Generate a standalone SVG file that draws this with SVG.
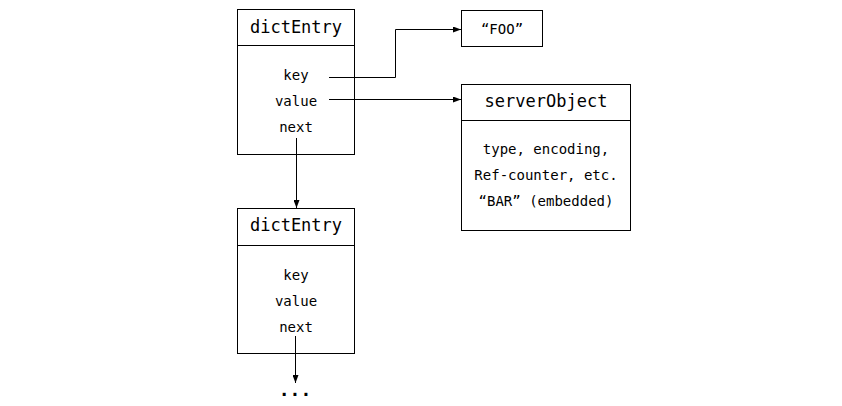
<svg xmlns="http://www.w3.org/2000/svg" width="842" height="406" viewBox="0 0 842 406">
<style>
  .box { fill: #ffffff; stroke: #000000; stroke-width: 1; }
  .div { stroke: #000000; stroke-width: 1; }
  .title { font-family: "DejaVu Sans Mono", "Liberation Mono", monospace; font-size: 17px; fill: #000000; text-anchor: middle; }
  .body { font-family: "DejaVu Sans Mono", "Liberation Mono", monospace; font-size: 14px; fill: #000000; text-anchor: middle; }
  .dots { font-family: "DejaVu Sans Mono", "Liberation Mono", monospace; font-size: 18px; font-weight: bold; fill: #000000; text-anchor: middle; }
  .conn { fill: none; stroke: #000000; stroke-width: 1; }
</style>
<defs>
  <marker id="arr" viewBox="0 0 8 6" refX="8" refY="3" markerWidth="8" markerHeight="6" markerUnits="userSpaceOnUse" orient="auto">
    <path d="M0,0 L8,3 L0,6 Z" fill="#000000"/>
  </marker>
</defs>
<rect width="842" height="406" fill="#ffffff"/>
<g id="dictEntry1">
  <rect class="box" x="237.5" y="9.5" width="117" height="145"/>
  <line class="div" x1="237.5" y1="45.5" x2="354.5" y2="45.5"/>
  <text class="title" x="296" y="33">dictEntry</text>
  <text class="body" x="296" y="80">key</text>
  <text class="body" x="296" y="106">value</text>
  <text class="body" x="296" y="132">next</text>
</g>
<g id="foo">
  <rect class="box" x="461.5" y="10.5" width="81" height="36"/>
  <text class="body" x="502" y="34">“FOO”</text>
</g>
<g id="serverObject">
  <rect class="box" x="461.5" y="84.5" width="169" height="146"/>
  <line class="div" x1="461.5" y1="120.5" x2="630.5" y2="120.5"/>
  <text class="title" x="546" y="107">serverObject</text>
  <text class="body" x="546" y="154">type, encoding,</text>
  <text class="body" x="546" y="180">Ref-counter, etc.</text>
  <text class="body" x="546" y="206">“BAR” (embedded)</text>
</g>
<g id="dictEntry2">
  <rect class="box" x="237.5" y="208.5" width="117" height="145"/>
  <line class="div" x1="237.5" y1="245.5" x2="354.5" y2="245.5"/>
  <text class="title" x="296" y="231">dictEntry</text>
  <text class="body" x="296" y="280">key</text>
  <text class="body" x="296" y="306">value</text>
  <text class="body" x="296" y="332">next</text>
</g>
<g id="ellipsis">
  <text class="dots" x="295" y="396">...</text>
</g>
<g id="connectors">
  <path class="conn" d="M329,77.5 H395.5 V29.5 H461" marker-end="url(#arr)"/>
  <path class="conn" d="M329,99.5 H461" marker-end="url(#arr)"/>
  <path class="conn" d="M296.5,138 V208" marker-end="url(#arr)"/>
  <path class="conn" d="M295.5,336 V383" marker-end="url(#arr)"/>
</g>
</svg>
